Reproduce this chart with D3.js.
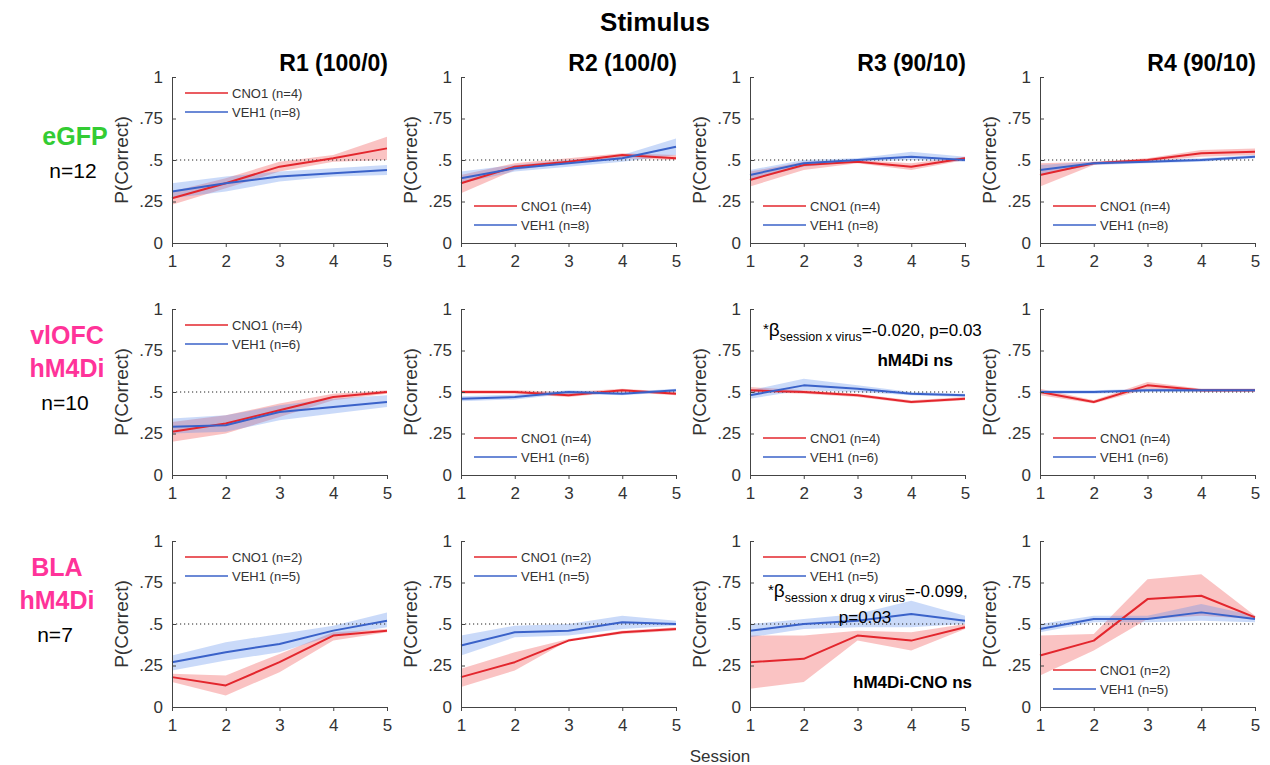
<!DOCTYPE html>
<html>
<head>
<meta charset="utf-8">
<script src="https://cdn.jsdelivr.net/npm/d3@7"></script>
<style>
  body { margin: 0; background: #fff; }
  svg { font-family: "Liberation Sans", Arial, sans-serif; }
  .axis path, .axis line { stroke: #444; }
  .axis text { fill: #333; font-size: 17px; }
</style>
</head>
<body>
<svg width="1270" height="765"></svg>
<script>
// ---- data ----
var sessions = [1, 2, 3, 4, 5];
var columnTitles = ["R1 (100/0)", "R2 (100/0)", "R3 (90/10)", "R4 (90/10)"];
var groupNames = [["eGFP"], ["vlOFC", "hM4Di"], ["BLA", "hM4Di"]];
var groupN = ["n=12", "n=10", "n=7"];
var cnoN = [4, 4, 2];
var vehN = [8, 6, 5];
var yTicks = [0, 0.25, 0.5, 0.75, 1];
var yTickLabels = ["0", ".25", ".5", ".75", "1"];

// cnoMean[row][col] = values for sessions 1..5
var cnoMean = [
  [[0.27, 0.36, 0.46, 0.51, 0.57], [0.36, 0.46, 0.49, 0.53, 0.51], [0.38, 0.47, 0.49, 0.46, 0.51], [0.41, 0.48, 0.50, 0.54, 0.55]],
  [[0.26, 0.31, 0.39, 0.47, 0.50], [0.50, 0.50, 0.48, 0.51, 0.49], [0.51, 0.50, 0.48, 0.44, 0.46], [0.50, 0.44, 0.54, 0.51, 0.51]],
  [[0.18, 0.13, 0.27, 0.43, 0.46], [0.18, 0.27, 0.40, 0.45, 0.47], [0.27, 0.29, 0.43, 0.40, 0.48], [0.31, 0.40, 0.65, 0.67, 0.54]]
];
var cnoLow = [
  [[0.23, 0.33, 0.43, 0.49, 0.50], [0.30, 0.44, 0.48, 0.51, 0.50], [0.34, 0.44, 0.48, 0.44, 0.50], [0.34, 0.47, 0.49, 0.52, 0.53]],
  [[0.20, 0.25, 0.35, 0.45, 0.49], [0.49, 0.49, 0.47, 0.50, 0.48], [0.50, 0.49, 0.47, 0.43, 0.45], [0.48, 0.43, 0.52, 0.50, 0.50]],
  [[0.15, 0.07, 0.21, 0.40, 0.45], [0.12, 0.22, 0.40, 0.44, 0.46], [0.11, 0.15, 0.40, 0.34, 0.47], [0.19, 0.34, 0.53, 0.55, 0.53]]
];
var cnoHigh = [
  [[0.31, 0.39, 0.49, 0.53, 0.64], [0.41, 0.48, 0.51, 0.54, 0.53], [0.43, 0.49, 0.50, 0.48, 0.52], [0.48, 0.49, 0.51, 0.56, 0.57]],
  [[0.32, 0.36, 0.43, 0.49, 0.51], [0.51, 0.51, 0.50, 0.52, 0.50], [0.53, 0.51, 0.49, 0.45, 0.47], [0.52, 0.45, 0.56, 0.52, 0.52]],
  [[0.20, 0.19, 0.32, 0.45, 0.47], [0.23, 0.33, 0.41, 0.46, 0.48], [0.43, 0.43, 0.46, 0.45, 0.50], [0.43, 0.44, 0.77, 0.80, 0.55]]
];
var vehMean = [
  [[0.31, 0.36, 0.40, 0.42, 0.44], [0.39, 0.45, 0.48, 0.51, 0.58], [0.41, 0.48, 0.50, 0.52, 0.50], [0.44, 0.48, 0.49, 0.50, 0.52]],
  [[0.29, 0.30, 0.38, 0.41, 0.44], [0.46, 0.47, 0.50, 0.49, 0.51], [0.48, 0.54, 0.52, 0.49, 0.48], [0.50, 0.50, 0.51, 0.51, 0.51]],
  [[0.27, 0.33, 0.38, 0.46, 0.52], [0.37, 0.45, 0.46, 0.51, 0.50], [0.46, 0.50, 0.52, 0.56, 0.52], [0.47, 0.53, 0.53, 0.57, 0.53]]
];
var vehLow = [
  [[0.27, 0.31, 0.37, 0.40, 0.41], [0.36, 0.43, 0.46, 0.49, 0.53], [0.38, 0.46, 0.49, 0.50, 0.49], [0.41, 0.47, 0.48, 0.49, 0.51]],
  [[0.25, 0.26, 0.33, 0.37, 0.41], [0.445, 0.455, 0.49, 0.48, 0.50], [0.46, 0.51, 0.50, 0.48, 0.47], [0.49, 0.49, 0.50, 0.50, 0.50]],
  [[0.22, 0.28, 0.33, 0.43, 0.48], [0.31, 0.42, 0.43, 0.47, 0.49], [0.42, 0.47, 0.48, 0.48, 0.50], [0.45, 0.51, 0.51, 0.52, 0.51]]
];
var vehHigh = [
  [[0.36, 0.40, 0.43, 0.45, 0.47], [0.43, 0.47, 0.50, 0.53, 0.63], [0.44, 0.50, 0.51, 0.55, 0.52], [0.47, 0.49, 0.50, 0.51, 0.53]],
  [[0.34, 0.36, 0.42, 0.46, 0.48], [0.475, 0.485, 0.51, 0.50, 0.52], [0.51, 0.58, 0.54, 0.50, 0.49], [0.51, 0.51, 0.52, 0.52, 0.52]],
  [[0.31, 0.39, 0.44, 0.49, 0.57], [0.43, 0.49, 0.50, 0.55, 0.52], [0.50, 0.53, 0.56, 0.64, 0.55], [0.50, 0.55, 0.55, 0.62, 0.55]]
];

// ---- layout ----
var colX = [172, 461, 750, 1040],
    rowTop = [77, 309, 541],
    panelW = 215,
    panelH = 166;
var legendAt = [["top", "bottom", "bottom", "bottom"],
                ["top", "bottom", "bottom", "bottom"],
                ["top", "top", "top", "bottom"]];
var groupColor = ["#33cc33", "#ff3399", "#ff3399"];
var groupX = [75, 67, 57];

var red = "#e3262d", redFill = "rgba(240,90,90,0.36)";
var blue = "#3a62c9", blueFill = "rgba(90,140,235,0.32)";

var svg = d3.select("svg");

var x = d3.scaleLinear().domain([1, 5]).range([0, panelW]);
var y = d3.scaleLinear().domain([0, 1]).range([panelH, 0]);

var line = d3.line()
    .x(function(d, i) { return x(sessions[i]); })
    .y(function(d) { return y(d); });
var band = d3.area()
    .x(function(d) { return x(d.s); })
    .y0(function(d) { return y(d.lo); })
    .y1(function(d) { return y(d.hi); });

function bandData(lo, hi) {
    return sessions.map(function(s, i) { return {s: s, lo: lo[i], hi: hi[i]}; });
}

// title
svg.append("text")
    .attr("x", 655).attr("y", 31)
    .attr("text-anchor", "middle")
    .style("font-size", "26px").style("font-weight", "bold")
    .text("Stimulus");

columnTitles.forEach(function(t, c) {
    svg.append("text")
        .attr("x", colX[c] + panelW + 1).attr("y", 71)
        .attr("text-anchor", "end")
        .style("font-size", "23px").style("font-weight", "bold")
        .text(t);
});

// row labels
groupNames.forEach(function(names, r) {
    var cy = rowTop[r] + 68 - (names.length - 1) * 33;
    names.forEach(function(n, k) {
        svg.append("text")
            .attr("x", groupX[r]).attr("y", cy + k * 33)
            .attr("text-anchor", "middle")
            .style("font-size", "25px").style("font-weight", "bold")
            .style("fill", groupColor[r])
            .text(n);
    });
    svg.append("text")
        .attr("x", groupX[r] - 2).attr("y", cy + names.length * 33)
        .attr("text-anchor", "middle")
        .style("font-size", "21px")
        .text(groupN[r]);
});

for (var r = 0; r < 3; r++) {
    for (var c = 0; c < 4; c++) {
        var g = svg.append("g")
            .attr("transform", "translate(" + colX[c] + "," + rowTop[r] + ")");

        g.append("path")
            .datum(bandData(cnoLow[r][c], cnoHigh[r][c]))
            .attr("fill", redFill)
            .attr("d", band);
        g.append("path")
            .datum(bandData(vehLow[r][c], vehHigh[r][c]))
            .attr("fill", blueFill)
            .attr("d", band);

        // chance line
        g.append("line")
            .attr("x1", 0).attr("x2", panelW)
            .attr("y1", y(0.5)).attr("y2", y(0.5))
            .attr("stroke", "#222")
            .attr("stroke-width", 1)
            .attr("stroke-dasharray", "1.2,2.8");

        g.append("path")
            .datum(cnoMean[r][c])
            .attr("fill", "none")
            .attr("stroke", red)
            .attr("stroke-width", 2)
            .attr("stroke-linejoin", "round")
            .attr("d", line);
        g.append("path")
            .datum(vehMean[r][c])
            .attr("fill", "none")
            .attr("stroke", blue)
            .attr("stroke-width", 2)
            .attr("stroke-linejoin", "round")
            .attr("d", line);

        g.append("g")
            .attr("class", "axis")
            .call(d3.axisLeft(y).tickValues(yTicks)
                .tickFormat(function(d, i) { return yTickLabels[i]; })
                .tickSizeInner(-4).tickSizeOuter(0).tickPadding(9));
        g.append("g")
            .attr("class", "axis")
            .attr("transform", "translate(0," + panelH + ")")
            .call(d3.axisBottom(x).tickValues(sessions)
                .tickFormat(d3.format("d"))
                .tickSizeInner(4).tickSizeOuter(0).tickPadding(8));

        g.append("text")
            .attr("transform", "translate(-44," + (panelH / 2) + ") rotate(-90)")
            .attr("text-anchor", "middle")
            .style("font-size", "19px")
            .style("fill", "#333")
            .text("P(Correct)");

        // legend
        var ly = legendAt[r][c] === "top" ? 16 : 129;
        var items = [["CNO1 (n=" + cnoN[r] + ")", red], ["VEH1 (n=" + vehN[r] + ")", blue]];
        items.forEach(function(it, k) {
            g.append("line")
                .attr("x1", 13).attr("x2", 56)
                .attr("y1", ly + k * 19).attr("y2", ly + k * 19)
                .attr("stroke", it[1]).attr("stroke-width", 1.5);
            g.append("text")
                .attr("x", 60).attr("y", ly + k * 19 + 5)
                .style("font-size", "13px").style("fill", "#333")
                .text(it[0]);
        });
    }
}

// statistics annotations
function beta(xp, yp, sub, rest) {
    var t = svg.append("text").attr("x", xp).attr("y", yp).style("font-size", "17px");
    t.append("tspan").style("font-size", "15px").attr("dy", -2).text("*");
    t.append("tspan").style("font-size", "19px").attr("dy", 2).text("\u03B2");
    t.append("tspan").style("font-size", "12.5px").attr("dy", 5).text(sub);
    t.append("tspan").attr("dy", -5).text(rest);
}
beta(763, 336, "session x virus", "=-0.020, p=0.03");
svg.append("text").attr("x", 953).attr("y", 366).attr("text-anchor", "end")
    .style("font-size", "17px").style("font-weight", "bold").text("hM4Di ns");

beta(768, 597, "session x drug x virus", "=-0.099,");
svg.append("text").attr("x", 865).attr("y", 623).attr("text-anchor", "middle")
    .style("font-size", "17px").text("p=0.03");
svg.append("text").attr("x", 972).attr("y", 688).attr("text-anchor", "end")
    .style("font-size", "17px").style("font-weight", "bold").text("hM4Di-CNO ns");

svg.append("text")
    .attr("x", 720).attr("y", 762)
    .attr("text-anchor", "middle")
    .style("font-size", "17px").style("fill", "#333")
    .text("Session");
</script>
</body>
</html>
